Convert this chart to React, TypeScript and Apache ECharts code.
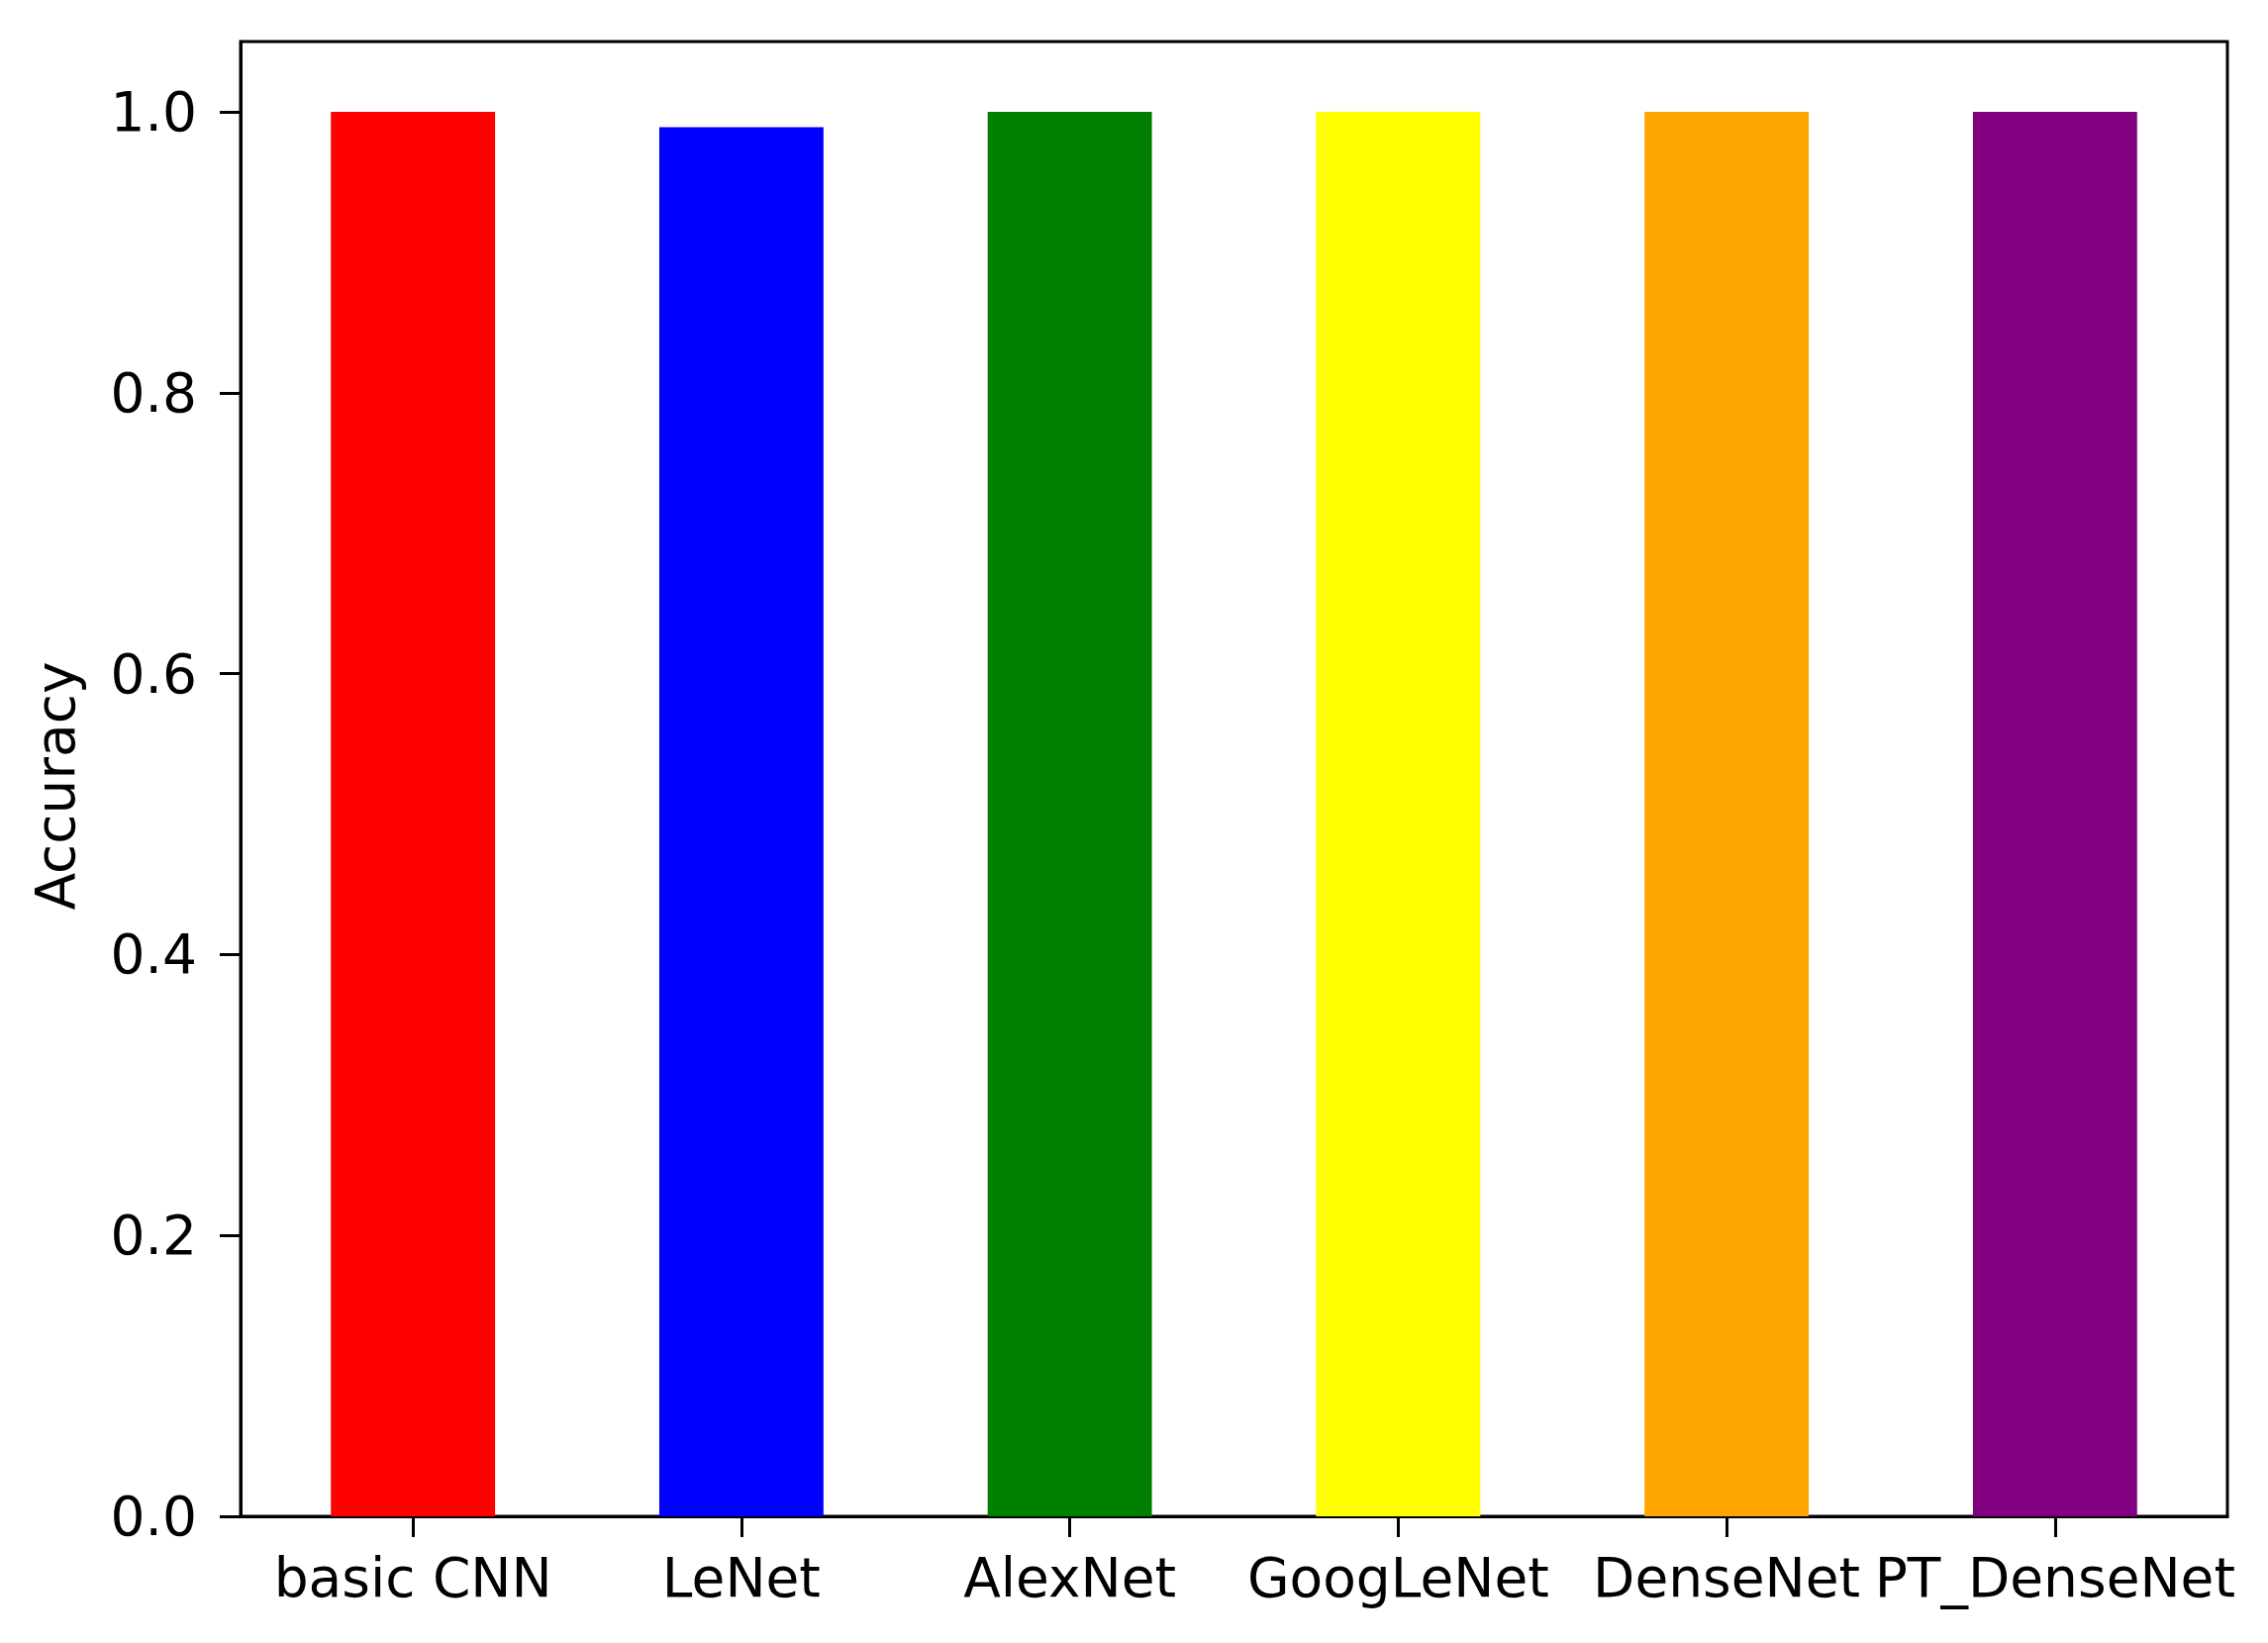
import React, { useEffect, useRef } from "react";
import * as echarts from "echarts";

const categories = ["basic CNN", "LeNet", "AlexNet", "GoogLeNet", "DenseNet", "PT_DenseNet"];
const accuracy = [1.0, 0.989, 1.0, 1.0, 1.0, 1.0];
const barColors = ["#ff0000", "#0000ff", "#008000", "#ffff00", "#ffa500", "#800080"];
const yTicks = [0, 0.2, 0.4, 0.6, 0.8, 1.0];
const xPositions = categories.map((_, i) => i);

const FONT = "DejaVu Sans";

export default function App() {
  const ref = useRef<HTMLDivElement>(null);
  useEffect(() => {
    if (!ref.current) return;
    const chart = echarts.init(ref.current, null, { renderer: "svg" });
    chart.setOption({
      animation: false,
      backgroundColor: "#ffffff",
      grid: {
        left: 243,
        top: 42,
        right: 41,
        bottom: 128,
        show: true,
        borderColor: "#000",
        borderWidth: 3,
        backgroundColor: "transparent",
        containLabel: false,
        outerBoundsMode: "none",
      },
      xAxis: {
        type: "value",
        min: -0.525,
        max: 5.525,
        splitLine: { show: false },
        axisLine: { show: true, onZero: false, lineStyle: { color: "#000", width: 3 } },
        axisTick: { show: true, length: 21, lineStyle: { color: "#000", width: 3 }, customValues: xPositions },
        axisLabel: {
          show: true,
          customValues: xPositions,
          formatter: (v: number) => categories[Math.round(v)] ?? "",
          fontFamily: FONT,
          fontSize: 55,
          color: "#000",
          margin: 34,
        },
      },
      yAxis: {
        type: "value",
        min: 0,
        max: 1.05,
        name: "Accuracy",
        nameLocation: "middle",
        nameRotate: 90,
        nameGap: 160,
        nameTextStyle: { fontFamily: FONT, fontSize: 55, color: "#000", padding: [0, 14, 0, 0] },
        splitLine: { show: false },
        axisLine: { show: true, onZero: false, lineStyle: { color: "#000", width: 3 } },
        axisTick: { show: true, length: 21, lineStyle: { color: "#000", width: 3 }, customValues: yTicks },
        axisLabel: {
          show: true,
          customValues: yTicks,
          formatter: (v: number) => v.toFixed(1),
          fontFamily: FONT,
          fontSize: 55,
          color: "#000",
          margin: 44,
        },
      },
      series: [
        {
          type: "bar",
          barWidth: "50%",
          data: accuracy.map((v, i) => ({
            value: [xPositions[i], v],
            itemStyle: { color: barColors[i] },
          })),
        },
      ],
    });
    return () => chart.dispose();
  }, []);
  return (
    <div
      ref={ref}
      style={{ position: "absolute", left: 0, top: 0, width: 2291, height: 1660 }}
    />
  );
}
